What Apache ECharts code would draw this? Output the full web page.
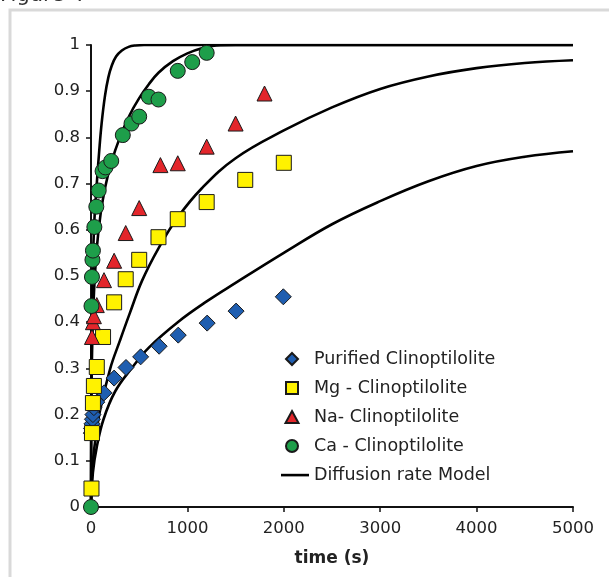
<!DOCTYPE html>
<html>
<head>
<meta charset="utf-8">
<script src="https://cdn.jsdelivr.net/npm/echarts@6/dist/echarts.min.js"></script>
<style>html,body{margin:0;padding:0;background:#fff}#c{width:609px;height:577px}</style>
</head>
<body>
<div id="c"></div>
<script>
// ---- data ----
const seriesNames = ['Purified Clinoptilolite', 'Mg - Clinoptilolite', 'Na- Clinoptilolite', 'Ca - Clinoptilolite', 'Diffusion rate Model'];
const xTicks = [0, 1000, 2000, 3000, 4000, 5000];
const yTicks = [0, 0.1, 0.2, 0.3, 0.4, 0.5, 0.6, 0.7, 0.8, 0.9, 1];

const purified = [[3,0.16],[5,0.17],[10,0.18],[15,0.19],[20,0.20],[30,0.215],[60,0.227],[135,0.247],[240,0.279],[363,0.302],[515,0.325],[707,0.348],[905,0.372],[1205,0.398],[1505,0.424],[1995,0.455]];
const mg = [[5,0.04],[10,0.16],[20,0.225],[30,0.262],[60,0.303],[125,0.368],[240,0.443],[360,0.493],[500,0.535],[700,0.584],[900,0.623],[1200,0.66],[1600,0.708],[2000,0.745]];
const na = [[10,0.368],[20,0.40],[30,0.413],[60,0.437],[135,0.491],[240,0.533],[360,0.593],[500,0.647],[720,0.74],[900,0.744],[1200,0.78],[1500,0.83],[1800,0.895]];
const ca = [[0,0],[5,0.435],[10,0.498],[15,0.535],[20,0.555],[35,0.606],[55,0.65],[80,0.685],[120,0.727],[150,0.735],[210,0.749],[330,0.805],[420,0.83],[500,0.845],[600,0.888],[700,0.882],[900,0.944],[1050,0.963],[1200,0.983]];

const model1 = [[0,0],[3,0.25],[10,0.42],[20,0.53],[35,0.62],[60,0.70],[85,0.77],[110,0.83],[145,0.89],[180,0.93],[215,0.955],[260,0.975],[320,0.988],[390,0.996],[460,0.999],[550,1],[800,1],[5000,1]];
const model2 = [[0,0],[5,0.25],[15,0.37],[30,0.46],[60,0.56],[100,0.635],[150,0.695],[210,0.745],[300,0.80],[400,0.848],[500,0.885],[600,0.915],[700,0.94],[850,0.965],[1000,0.982],[1150,0.993],[1300,0.999],[1500,1],[1800,1],[5000,1]];
const model3 = [[0,0],[10,0.065],[30,0.12],[90,0.205],[200,0.30],[300,0.36],[400,0.418],[530,0.49],[700,0.56],[900,0.627],[1150,0.69],[1500,0.755],[2000,0.815],[2500,0.865],[3000,0.905],[3500,0.932],[4000,0.95],[4500,0.961],[5000,0.967]];
const model4 = [[0,0],[20,0.075],[60,0.13],[130,0.19],[250,0.25],[420,0.30],[600,0.345],[900,0.40],[1200,0.445],[1500,0.485],[2000,0.55],[2500,0.612],[3000,0.662],[3500,0.705],[4000,0.738],[4500,0.758],[5000,0.77]];

const FONT = 'DejaVu Sans';
const chart = echarts.init(document.getElementById('c'), null, {renderer: 'canvas'});

function modelSeries(d) {
  return {
    name: seriesNames[4], type: 'line', data: d, symbol: 'none', smooth: 0.4,
    lineStyle: {color: '#000', width: 2.6}, itemStyle: {color: '#000'}, z: 2, silent: true
  };
}
function scatterSeries(i, d, symbol, color, size) {
  return {
    name: seriesNames[i], type: 'scatter', data: d, symbol: symbol, symbolSize: size,
    itemStyle: {color: color, borderColor: '#1a1a1a', borderWidth: 1, opacity: 1}, z: 3, clip: false
  };
}
// legend icons: an invisible 28x14 frame keeps the marker size and position
const FRAME = 'path://M0,0 M28,14 ';
const legendIcons = [
  FRAME + 'M11,1 L17,7 L11,13 L5,7 Z',
  FRAME + 'M5,1 L17,1 L17,13 L5,13 Z',
  FRAME + 'M11,1 L17.5,13 L4.5,13 Z',
  FRAME + 'M5,7 A6,6 0 1 1 17,7 A6,6 0 1 1 5,7 Z',
  FRAME + 'M0,5.8 L28,5.8 L28,8.4 L0,8.4 Z'
];

chart.setOption({
  animation: false,
  backgroundColor: '#fff',
  graphic: [
    {type: 'rect', shape: {x: 10, y: 10, width: 620, height: 600}, style: {fill: 'none', stroke: '#d9d9d9', lineWidth: 3}, z: -10},
    {type: 'text', left: 0, top: -15, style: {text: 'Figure 4', font: '21px ' + FONT, fill: '#333'}}
  ],
  grid: {left: 91, right: 36, top: 45, bottom: 70},
  xAxis: {
    type: 'value', min: xTicks[0], max: xTicks[xTicks.length - 1], interval: 1000,
    name: 'time (s)', nameLocation: 'middle', nameGap: 43,
    nameTextStyle: {fontFamily: FONT, fontSize: 17, fontWeight: 'bold', color: '#222'},
    axisLine: {lineStyle: {color: '#111', width: 2}},
    axisTick: {show: true, length: 5, lineStyle: {color: '#111', width: 1.5}},
    axisLabel: {fontFamily: FONT, fontSize: 16.5, color: '#222', margin: 13, formatter: v => String(v)},
    splitLine: {show: false}
  },
  yAxis: {
    type: 'value', min: yTicks[0], max: yTicks[yTicks.length - 1], interval: 0.1,
    axisLine: {show: true, lineStyle: {color: '#111', width: 2}},
    axisTick: {show: true, length: 5, lineStyle: {color: '#111', width: 1.5}},
    axisLabel: {fontFamily: FONT, fontSize: 16.5, color: '#222', margin: 11},
    splitLine: {show: false}
  },
  legend: {
    orient: 'vertical', left: 275, top: 345, itemWidth: 28, itemHeight: 14, itemGap: 11,
    textStyle: {fontFamily: FONT, fontSize: 17.5, color: '#222'},
    selectedMode: false,
    data: seriesNames.map((n, i) => i === 4
      ? {name: n, icon: legendIcons[i], itemStyle: {color: '#000', borderWidth: 0}}
      : {name: n, icon: legendIcons[i]})
  },
  series: [
    modelSeries(model1), modelSeries(model2), modelSeries(model3), modelSeries(model4),
    scatterSeries(0, purified, 'diamond', '#1f5eb0', 16),
    scatterSeries(1, mg, 'rect', '#fff200', 15),
    scatterSeries(2, na, 'triangle', '#e3262b', 15),
    scatterSeries(3, ca, 'circle', '#1e9e4a', 15)
  ]
});
</script>
</body>
</html>
